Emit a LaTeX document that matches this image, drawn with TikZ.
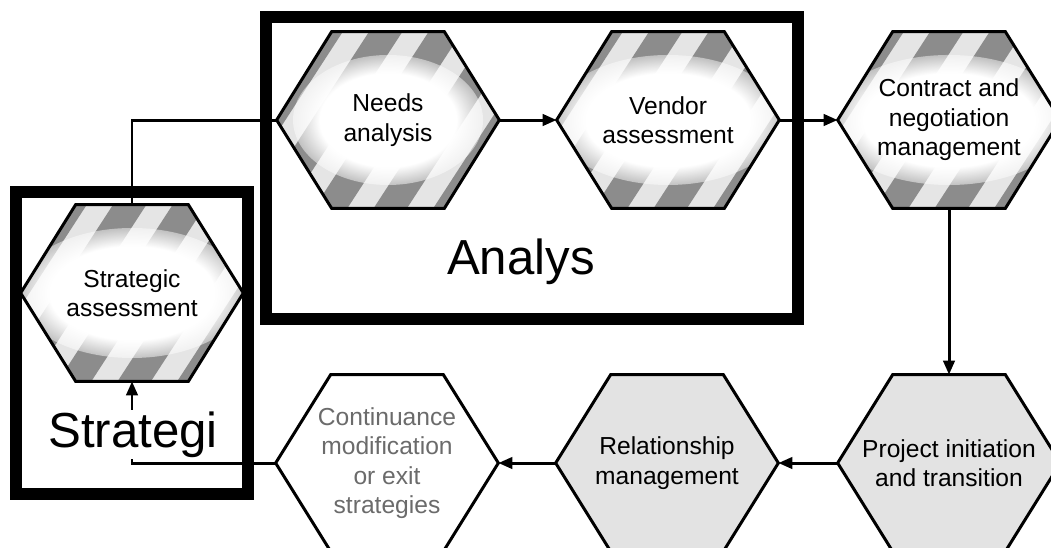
\documentclass[tikz,border=0pt]{standalone}
\usepackage{fontspec}
\setmainfont{Liberation Sans}
\usetikzlibrary{arrows.meta,fadings}

\pgfdeclarelayer{background}
\pgfsetlayers{background,main}

\definecolor{stripedark}{gray}{0.55}
\definecolor{stripelight}{gray}{0.90}
\definecolor{hexgray}{gray}{0.89}
\definecolor{fadedtext}{gray}{0.42}

% white glow behind the text of the striped hexagons
\pgfdeclareradialshading{glowshade}{\pgfpointorigin}{color(0bp)=(white); color(18bp)=(white); color(31bp)=(black); color(50bp)=(black)}
\pgfdeclarefading{glow}{\pgfuseshading{glowshade}}

\tikzset{
  hexbox/.style={minimum width=4.44cm, minimum height=3.52cm, inner sep=0pt,
    align=center, font=\fontsize{14}{16.8}\selectfont},
  hexline/.style={line width=1.7pt, line join=miter},
  link/.style={line width=1.7pt},
  arrow/.style={link, -{Triangle[length=8pt,width=6.5pt]}},
  frame/.style={line width=6.5pt},
  biglabel/.style={font=\fontsize{28}{32}\selectfont, anchor=base, inner sep=0pt},
}

% hexagon through the corners of a box node
\newcommand{\hexpath}[1]{(#1.west) -- ([xshift=1.1cm]#1.north west)
  -- ([xshift=-1.1cm]#1.north east) -- (#1.east)
  -- ([xshift=-1.1cm]#1.south east) -- ([xshift=1.1cm]#1.south west) -- cycle}

% grey stripes and a white glow inside the hexagon
\newcommand{\stripehex}[2]{%
  \begin{pgfonlayer}{background}
    \begin{scope}
      \clip \hexpath{#1};
      \fill[stripelight] (#1.south west) rectangle (#1.north east);
      \begin{scope}[shift={(#1.center)}, rotate=-33]
        \foreach \k in {-4,...,4}
          \fill[stripedark] (\k*1cm-0.28cm,-4cm) rectangle (\k*1cm+0.28cm,4cm);
      \end{scope}
      \fill[white, path fading=glow] (#1.center) ellipse (#2 and 1.3cm);
    \end{scope}
  \end{pgfonlayer}
  \draw[hexline] \hexpath{#1};
}

% flat filled hexagon
\newcommand{\plainhex}[2]{%
  \begin{pgfonlayer}{background}
    \fill[#2] \hexpath{#1};
  \end{pgfonlayer}
  \draw[hexline] \hexpath{#1};
}

\begin{document}
\begin{tikzpicture}[x=0.2mm,y=-0.2mm]
  \useasboundingbox (0,0) rectangle (1051,547);
  \begin{pgfonlayer}{background}
    \fill[white] (0,0) rectangle (1051,547);
  \end{pgfonlayer}

  % top row
  \node[hexbox] (needs) at (388,120) {Needs\\analysis};
  \node[hexbox] (vendor) at (668,120) {Vendor\\assessment};
  \node[hexbox] (contract) at (949,120) {Contract and\\negotiation\\management};
  \node[hexbox] (strategic) at (132,293) {Strategic\\assessment};

  % bottom row
  \node[hexbox] (project) at (949,463) {Project initiation\\and transition};
  \node[hexbox] (relation) at (667,463) {Relationship\\management};
  \node[hexbox, text=fadedtext] (exit) at (387,463) {Continuance\\modification\\or exit\\strategies};

  \stripehex{needs}{1.9cm}
  \stripehex{vendor}{2.3cm}
  \stripehex{contract}{2.4cm}
  \stripehex{strategic}{2.3cm}
  \plainhex{project}{hexgray}
  \plainhex{relation}{hexgray}
  \plainhex{exit}{white}

  % connectors
  \draw[link] (strategic.north) |- (needs.west);
  \draw[arrow] (needs.east) -- (vendor.west);
  \draw[arrow] (vendor.east) -- (contract.west);
  \draw[arrow] (contract.south) -- (project.north);
  \draw[arrow] (project.west) -- (relation.east);
  \draw[arrow] (relation.west) -- (exit.east);
  \draw[arrow] (exit.west) -| (strategic.south);

  % phase frames
  \draw[frame] (266,17) rectangle (798,319);
  \draw[frame] (16,192) rectangle (248,494);
  \node[biglabel] (analys) at (521,274) {Analys};
  \node[biglabel, fill=white, inner sep=1pt] (strategi) at (133,447) {Strategi};
\end{tikzpicture}
\end{document}
